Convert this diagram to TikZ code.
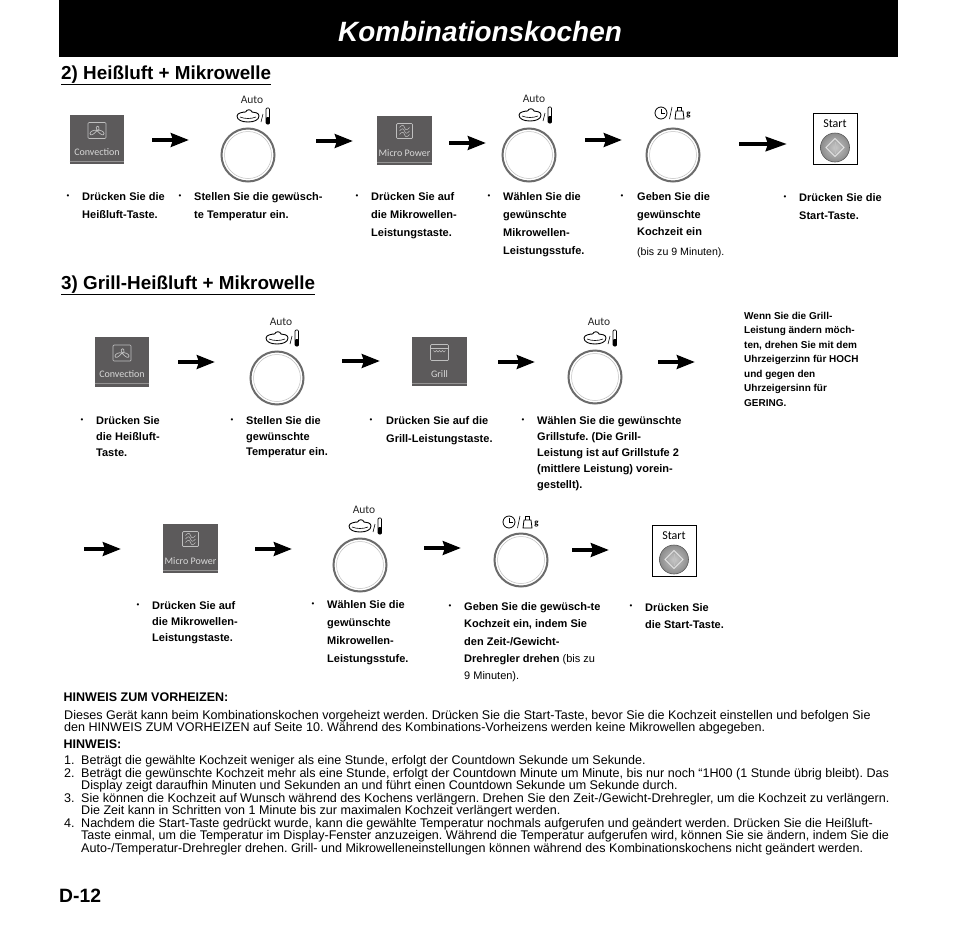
\documentclass[tikz,border=0pt]{standalone}
\usepackage{fontspec}
\setmainfont{Liberation Sans}
\newfontfamily\uifont{Carlito}
\usetikzlibrary{arrows.meta}
\definecolor{btngray}{HTML}{5C5A5B}
\definecolor{btntext}{HTML}{D8D8D8}
\frenchspacing
\tikzset{
  fatarrow/.style={line width=4.5pt,-{Stealth[length=18pt,width=13.5pt,inset=2pt]},black},
  fatarrowlong/.style={line width=4.5pt,-{Stealth[length=21pt,width=14pt,inset=2pt]},black},
  btnbox/.style={fill=btngray,draw=none,minimum width=54.5pt,minimum height=49.5pt,inner sep=0pt},
  btnlabel/.style={text=btntext,font=\uifont\fontsize{10}{12}\selectfont,inner sep=0pt},
  btnicon/.style={draw=btntext!80!btngray,line width=.7pt},
  dialout/.style={circle,draw=black!58,line width=2pt,fill=white,minimum size=53pt,inner sep=0pt},
  dialin/.style={circle,draw=black!25,line width=.5pt,minimum size=47pt,inner sep=0pt},
  autolabel/.style={font=\uifont\fontsize{11.5}{12}\selectfont,text=black!85,inner sep=0pt},
  bul/.style={font=\fontsize{8}{8}\selectfont,inner sep=0pt},
  stepb/.style={anchor=north west,align=left,inner sep=0pt,font=\bfseries\fontsize{11}{18}\selectfont},
  stepc/.style={anchor=north west,align=left,inner sep=0pt,font=\bfseries\fontsize{11}{16}\selectfont},
  noteb/.style={anchor=north west,align=left,inner sep=0pt,font=\bfseries\fontsize{10}{14.5}\selectfont},
  heading/.style={anchor=base west,inner sep=0pt,font=\bfseries\fontsize{18.85}{20}\selectfont},
  body/.style={anchor=base west,inner sep=0pt,font=\fontsize{12.55}{13}\selectfont},
  bodyb/.style={anchor=base west,inner sep=0pt,font=\bfseries\fontsize{12.5}{13}\selectfont},
}
\newcommand{\ulhead}[1]{\underline{#1}}
\newcommand{\btnbase}[4]{%
  \node[btnbox] (#1) at (#2,#3) {};
  \draw[btntext!45!btngray,line width=.6pt] ([yshift=3.5pt]#1.south west) -- ([yshift=3.5pt]#1.south east);
  \node[btnlabel] (#1l) at ([yshift=-12.5pt]#1.center) {#4};
}
\newcommand{\convbtn}[3]{\btnbase{#1}{#2}{#3}{Convection}
  \begin{scope}[shift={(#1.center)}]
   \draw[btnicon,rounded corners=1pt] (-9,-17) rectangle (9,-1);
   \draw[btnicon] (0,-9) .. controls (-3,-14) and (3,-15) .. (2,-10) -- cycle;
   \draw[btnicon] (0,-9) .. controls (3,-5) and (7,-3) .. (7,-6) .. controls (7,-8) and (3,-10) .. (0,-9);
   \draw[btnicon] (0,-9) .. controls (-3,-5) and (-7,-3) .. (-7,-6) .. controls (-7,-8) and (-3,-10) .. (0,-9);
  \end{scope}}
\newcommand{\microbtn}[3]{\btnbase{#1}{#2}{#3}{Micro Power}
  \begin{scope}[shift={(#1.center)}]
   \draw[btnicon,rounded corners=1pt] (-8,-17) rectangle (8,-2);
   \foreach \yy in {-13,-9.5,-6}{\draw[btnicon,line width=.5pt] (-5,\yy) .. controls (-2.5,\yy-3) and (-1,\yy-3) .. (0,\yy) .. controls (1,\yy+3) and (2.5,\yy+3) .. (5,\yy);}
  \end{scope}}
\newcommand{\grillbtn}[3]{\btnbase{#1}{#2}{#3}{Grill}
  \begin{scope}[shift={(#1.center)}]
   \draw[btnicon,rounded corners=1pt] (-9,-17) rectangle (9,-1);
   \draw[btnicon,line width=.5pt] (-9,-13) -- (9,-13);
   \draw[btnicon,line width=.5pt] (-6,-11) -- (-4.5,-9.5) -- (-3,-11) -- (-1.5,-9.5) -- (0,-11) -- (1.5,-9.5) -- (3,-11) -- (4.5,-9.5) -- (6,-11);
  \end{scope}}
\newcommand{\dialknob}[3]{%
  \node[dialout] (#1) at (#2,#3) {};
  \node[dialin] (#1i) at (#1.center) {};}
\newcommand{\autoicons}[3]{%
  \node[autolabel] (#1) at (#2+3,#3-16.5) {Auto};
  \begin{scope}[shift={(#2,#3)}]
    \draw[black,line width=.9pt] (-12,0) .. controls (-12,-3) and (-6,-4) .. (-3.5,-4) .. controls (-2,-7) and (2,-7) .. (3,-4) .. controls (6,-4) and (10,-3) .. (10,0) .. controls (10,4) and (5,6) .. (-1,6) .. controls (-7,6) and (-12,4) .. (-12,0) -- cycle;
    \draw[black,line width=.6pt] (-9,1) .. controls (-4,3) and (2,3) .. (7,1);
    \draw[black,line width=.6pt] (12,6) -- (14,-2);
    \draw[black,line width=.7pt,rounded corners=1pt] (17,-8) rectangle (20.5,8);
    \fill[black,rounded corners=1pt] (17,1) rectangle (20.5,8);
  \end{scope}}
\newcommand{\timeicons}[3]{%
  \begin{scope}[shift={(#2,#3)}]
    \coordinate (#1) at (0,0);
    \draw[black,line width=.8pt] (-12,0) circle (6);
    \draw[black,line width=.7pt] (-12,-4) -- (-12,0) -- (-8.5,0);
    \draw[black,line width=.6pt] (-3.5,6) -- (-1,-6);
    \draw[black,line width=.8pt] (2,6) -- (3,-2) -- (10,-2) -- (11,6) -- cycle;
    \draw[black,line width=.7pt] (4.5,-2) -- (4.5,-6) -- (8,-6) -- (8,-2);
    \node[font=\uifont\bfseries\fontsize{9}{9}\selectfont,inner sep=0pt] at (15.5,2) {g};
  \end{scope}}
\newcommand{\startbtn}[3]{%
  \node[draw=black,line width=.9pt,fill=white,minimum width=44pt,minimum height=51pt,inner sep=0pt] (#1) at (#2,#3) {};
  \node[font=\uifont\fontsize{12}{12}\selectfont,inner sep=0pt] (#1l) at ([yshift=15pt]#1.center) {Start};
  \node[circle,draw=black!65,line width=.6pt,inner color=black!22,outer color=black!45,minimum size=29pt,inner sep=0pt] (#1c) at ([yshift=-9pt]#1.center) {};
  \begin{scope}[shift={(#1c.center)}]
    \draw[white!90!black,line width=.8pt] (0,-9) -- (9,0) -- (0,9) -- (-9,0) -- cycle;
    \draw[white!75!black,line width=.5pt] (0,-6) -- (0,6);
  \end{scope}}
\newcommand{\flow}[5]{%
  \coordinate (#1s) at (#2,#3); \coordinate (#1e) at (#4,#5);
  \draw[fatarrow] (#1s) -- (#1e);}
\begin{document}
\begin{tikzpicture}[x=1pt,y=-1pt]
\useasboundingbox (0,0) rectangle (954,932);
\fill[white] (0,0) rectangle (954,932);
\node[fill=black,minimum width=839pt,minimum height=57pt,inner sep=0pt,anchor=north west] (title) at (59,0) {};
\node[text=white,inner sep=0pt,font=\bfseries\itshape\fontsize{27.9}{30}\selectfont] (titlet) at (480,32) {Kombinationskochen};
\node[heading] (h2) at (61,79) {\ulhead{2) Heißluft + Mikrowelle}};
\node[heading] (h3) at (61,289) {\ulhead{3) Grill-Heißluft + Mikrowelle}};

% row 1
\convbtn{a1}{97}{139.5}
\flow{f1}{152}{140}{189}{140}
\dialknob{a2}{248}{155}
\autoicons{a2t}{249}{116}
\flow{f2}{316}{141}{353}{141}
\microbtn{a3}{404.5}{140.5}
\flow{f3}{449}{143}{486}{143}
\dialknob{a4}{529}{155}
\autoicons{a4t}{531}{115}
\flow{f4}{585}{140}{622}{140}
\dialknob{a5}{673}{155}
\timeicons{a5t}{673}{113}
\coordinate (f5s) at (739,144); \coordinate (f5e) at (787,144);
\draw[fatarrowlong] (f5s) -- (f5e);
\startbtn{a6}{835}{138.5}

\foreach \bx/\by in {68/197,180/197,357/197,489/197,622/197,785/198}{\node[bul] at (\bx,\by) {•};}
\node[stepb] (t1) at (82,192.5) {Drücken Sie die\\Heißluft-Taste.};
\node[stepb] (t2) at (194,192.5) {Stellen Sie die gewüsch-\\te Temperatur ein.};
\node[stepb] (t3) at (371,192.5) {Drücken Sie auf\\die Mikrowellen-\\Leistungstaste.};
\node[stepb] (t4) at (503,192.5) {Wählen Sie die\\gewünschte\\Mikrowellen-\\Leistungsstufe.};
\node[stepb,font=\bfseries\fontsize{11}{17.5}\selectfont] (t5) at (637,192.5) {Geben Sie die\\gewünschte\\Kochzeit ein};
\node[anchor=base west,inner sep=0pt,font=\fontsize{10.6}{12}\selectfont] (t5b) at (637,255) {(bis zu 9 Minuten).};
\node[stepb] (t6) at (799,193.5) {Drücken Sie die\\Start-Taste.};

% row 2
\convbtn{b1}{122}{362}
\flow{g1}{178}{362}{215}{362}
\dialknob{b2}{277}{378}
\autoicons{b2t}{278}{338}
\flow{g2}{342}{361}{380}{361}
\grillbtn{b3}{439.5}{361.5}
\flow{g3}{498}{362}{535}{362}
\dialknob{b4}{595}{377}
\autoicons{b4t}{596}{338}
\flow{g4}{658}{362}{695}{362}

\foreach \bx/\by in {82/421,232/421,371/421,523/421}{\node[bul] at (\bx,\by) {•};}
\node[stepc] (u1) at (96,416.5) {Drücken Sie\\die Heißluft-\\Taste.};
\node[stepc,font=\bfseries\fontsize{11}{15.5}\selectfont] (u2) at (246,416.5) {Stellen Sie die\\gewünschte\\Temperatur ein.};
\node[stepb] (u3) at (386,416.5) {Drücken Sie auf die\\Grill-Leistungstaste.};
\node[stepc] (u4) at (537,416.5) {Wählen Sie die gewünschte\\Grillstufe. (Die Grill-\\Leistung ist auf Grillstufe 2\\(mittlere Leistung) vorein-\\gestellt).};
\node[noteb] (nt) at (744,312) {Wenn Sie die Grill-\\Leistung ändern möch-\\ten, drehen Sie mit dem\\Uhrzeigerzinn für HOCH\\und gegen den\\Uhrzeigersinn für\\GERING.};

% row 3
\flow{k0}{84}{549}{121}{549}
\microbtn{c1}{190.5}{548.5}
\flow{k1}{255}{549}{292}{549}
\dialknob{c2}{360}{565}
\autoicons{c2t}{361}{526}
\flow{k2}{424}{548}{461}{548}
\dialknob{c3}{521}{560}
\timeicons{c3t}{521}{522}
\flow{k3}{572}{550}{609}{550}
\startbtn{c4}{674}{550.5}

\foreach \bx/\by in {138/606,313/605,450/607,631/607}{\node[bul] at (\bx,\by) {•};}
\node[stepc] (v1) at (152,601.5) {Drücken Sie auf\\die Mikrowellen-\\Leistungstaste.};
\node[stepb] (v2) at (327,600.5) {Wählen Sie die\\gewünschte\\Mikrowellen-\\Leistungsstufe.};
\node[stepb,font=\bfseries\fontsize{11}{17.3}\selectfont] (v3) at (464,602.5) {Geben Sie die gewüsch-te\\Kochzeit ein, indem Sie\\den Zeit-/Gewicht-\\Drehregler drehen {\mdseries (bis zu}\\{\mdseries 9 Minuten).}};
\node[stepb,font=\bfseries\fontsize{11}{17}\selectfont] (v4) at (645,603.5) {Drücken Sie\\die Start-Taste.};

% notes
\node[bodyb] at (63.5,701) {HINWEIS ZUM VORHEIZEN:};
\node[body] at (64,719) {Dieses Gerät kann beim Kombinationskochen vorgeheizt werden. Drücken Sie die Start-Taste, bevor Sie die Kochzeit einstellen und befolgen Sie};
\node[body] at (64,731) {den HINWEIS ZUM VORHEIZEN auf Seite 10. Während des Kombinations-Vorheizens werden keine Mikrowellen abgegeben.};
\node[bodyb] at (63.5,748) {HINWEIS:};
\node[body] at (64,764) {1.};\node[body] at (81,764) {Beträgt die gewählte Kochzeit weniger als eine Stunde, erfolgt der Countdown Sekunde um Sekunde.};
\node[body] at (64,777) {2.};\node[body] at (81,777) {Beträgt die gewünschte Kochzeit mehr als eine Stunde, erfolgt der Countdown Minute um Minute, bis nur noch “1H00 (1 Stunde übrig bleibt). Das};
\node[body] at (81,789) {Display zeigt daraufhin Minuten und Sekunden an und führt einen Countdown Sekunde um Sekunde durch.};
\node[body] at (64,802) {3.};\node[body] at (81,802) {Sie können die Kochzeit auf Wunsch während des Kochens verlängern. Drehen Sie den Zeit-/Gewicht-Drehregler, um die Kochzeit zu verlängern.};
\node[body] at (81,814) {Die Zeit kann in Schritten von 1 Minute bis zur maximalen Kochzeit verlängert werden.};
\node[body] at (64,827) {4.};\node[body] at (81,827) {Nachdem die Start-Taste gedrückt wurde, kann die gewählte Temperatur nochmals aufgerufen und geändert werden. Drücken Sie die Heißluft-};
\node[body] at (81,839) {Taste einmal, um die Temperatur im Display-Fenster anzuzeigen. Während die Temperatur aufgerufen wird, können Sie sie ändern, indem Sie die};
\node[body] at (81,852) {Auto-/Temperatur-Drehregler drehen. Grill- und Mikrowelleneinstellungen können während des Kombinationskochens nicht geändert werden.};
\node[anchor=base west,inner sep=0pt,font=\bfseries\fontsize{19.3}{22}\selectfont] (pg) at (59,902) {D-12};
\end{tikzpicture}
\end{document}
